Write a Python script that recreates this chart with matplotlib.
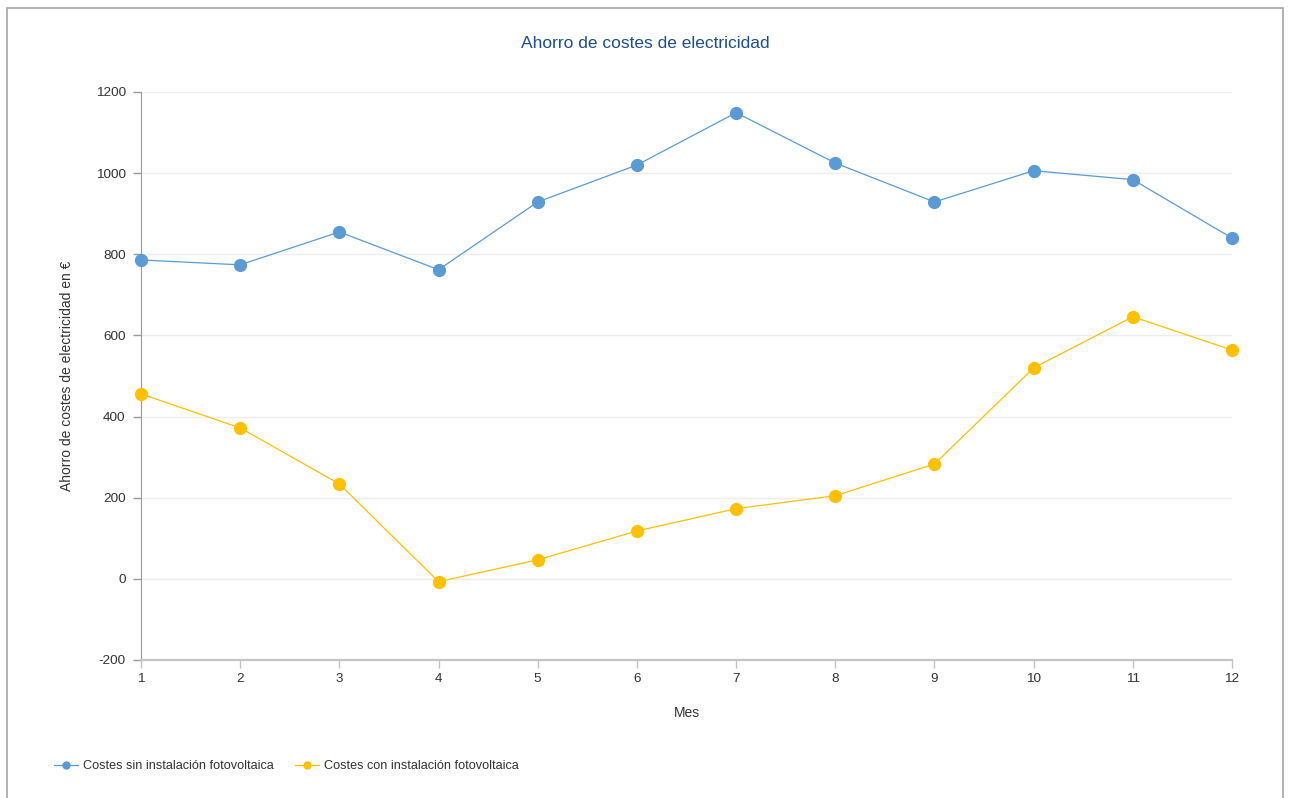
import matplotlib
matplotlib.use("Agg")
import matplotlib.pyplot as plt
from matplotlib.patches import Rectangle
from matplotlib.lines import Line2D

plt.rcParams['font.family'] = ['Liberation Sans', 'DejaVu Sans']
plt.rcParams['axes.unicode_minus'] = False

meses = [1, 2, 3, 4, 5, 6, 7, 8, 9, 10, 11, 12]
sin_fv = [786, 774, 855, 762, 929, 1020, 1149, 1025, 929, 1006, 984, 840]
con_fv = [456, 372, 234, -7, 47, 118, 173, 205, 283, 520, 646, 564]
y_ticks = [-200, 0, 200, 400, 600, 800, 1000, 1200]

titulo = "Ahorro de costes de electricidad"
etiqueta_x = "Mes"
etiqueta_y = "Ahorro de costes de electricidad en €"
serie_sin = "Costes sin instalación fotovoltaica"
serie_con = "Costes con instalación fotovoltaica"

azul = "#5B9BD5"
amarillo = "#FFC000"
texto = "#333333"

W, H = 1290, 798
fig = plt.figure(figsize=(W / 100, H / 100), dpi=100)
ax = fig.add_axes([141 / W, 1 - 660 / H, (1232 - 141) / W, (660 - 92) / H])

# outer frame
fig.patches.append(Rectangle((7 / W, -0.05), (1283 - 7) / W, 1.05 - 8 / H,
                             transform=fig.transFigure, fill=False,
                             edgecolor="#a6a6a6", linewidth=1.2))

ax.plot(meses, sin_fv, color=azul, linewidth=0.9, marker="o", markersize=8.5,
        label=serie_sin, clip_on=False, zorder=3)
ax.plot(meses, con_fv, color=amarillo, linewidth=0.9, marker="o", markersize=8.5,
        label=serie_con, clip_on=False, zorder=3)

ax.set_xlim(1, 12)
ax.set_ylim(-200, 1200)
ax.set_xticks(meses)
ax.set_yticks(y_ticks)
ax.grid(axis="y", color="#eeeeee", linewidth=1)
ax.set_axisbelow(True)

for s in ["top", "right"]:
    ax.spines[s].set_visible(False)
ax.spines["left"].set_color("#9a9a9a")
ax.spines["bottom"].set_color("#c4c4c4")
ax.spines["bottom"].set_linewidth(1.6)
ax.tick_params(axis="y", length=6, width=1, color="#9a9a9a", labelsize=9.7,
               labelcolor=texto, pad=5)
ax.tick_params(axis="x", length=6, width=1, color="#c4c4c4", labelsize=9.7,
               labelcolor=texto, pad=3)

fig.text(0.5, 1 - 44 / H, titulo, color="#1F4E8C", fontsize=12.5,
         ha="center", va="center")
ax.set_xlabel(etiqueta_x, fontsize=10, color=texto, labelpad=15.5)
ax.set_ylabel(etiqueta_y, fontsize=10, color=texto, va="center")
ax.yaxis.set_label_coords((67 - 141) / (1232 - 141), 0.5)

handles = [Line2D([0], [0], color=azul, linewidth=0.9, marker="o", markersize=5),
           Line2D([0], [0], color=amarillo, linewidth=0.9, marker="o", markersize=5)]
fig.legend(handles, [serie_sin, serie_con], loc="center left",
           bbox_to_anchor=(42.5 / W, 1 - 766 / H), ncol=2, frameon=False,
           fontsize=9.1, handlelength=1.9, handletextpad=0.4, columnspacing=1.66,
           labelcolor=texto)

fig.savefig("out.png", dpi=100)
